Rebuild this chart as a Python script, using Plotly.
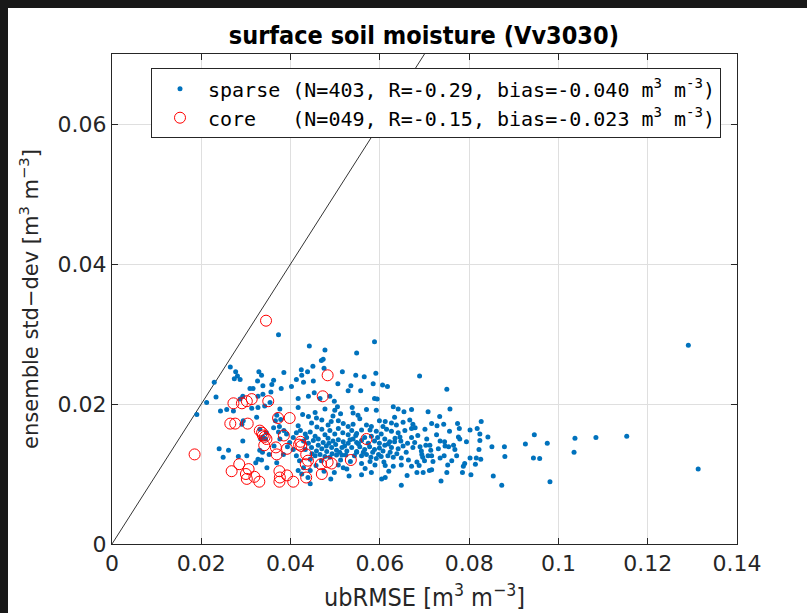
import plotly.graph_objects as go

# ---------------- data ----------------
sparse_x = [
    # region near the 1:1 line
    0.0373, 0.0265, 0.0277, 0.0287, 0.0274, 0.0281, 0.0329, 0.0335, 0.0385, 0.0413,
    0.0326, 0.0316, 0.0309, 0.0338, 0.0358, 0.0362, 0.0379, 0.0402, 0.0356, 0.0233,
    0.0229, 0.0212, 0.0243, 0.0257, 0.0272, 0.0293, 0.0287, 0.0327, 0.0338, 0.0354,
    0.0313, 0.0327, 0.0342, 0.0376, 0.0324, 0.0294, 0.0291, 0.0369, 0.0366, 0.0378,
    0.0375, 0.0417, 0.0417, 0.0190, 0.0240, 0.0261, 0.0302, 0.0283, 0.0249, 0.0293,
    0.0331, 0.0337, 0.0352, 0.0363, 0.0384, 0.0322, 0.0327, 0.0335, 0.0347, 0.0369,
    0.0417, 0.0331, 0.0346, 0.0338, 0.0344, 0.0333, 0.0362, 0.0373, 0.0385, 0.0391,
    0.0417, 0.0376, 0.0398, 0.0406, 0.0413, 0.0406, 0.0413, 0.0420, 0.0442, 0.0477,
    0.0473, 0.0469, 0.0548, 0.0588,
    # central cluster
    0.0424, 0.0438, 0.0450, 0.0475, 0.0516, 0.0546, 0.0565, 0.0591, 0.0425, 0.0429,
    0.0451, 0.0506, 0.0529, 0.0535, 0.0557, 0.0585, 0.0606, 0.0617, 0.0588, 0.0594,
    0.0440, 0.0453, 0.0466, 0.0488, 0.0498, 0.0427, 0.0440, 0.0455, 0.0477, 0.0499,
    0.0505, 0.0538, 0.0540, 0.0570, 0.0592, 0.0630, 0.0641, 0.0654, 0.0671, 0.0447,
    0.0458, 0.0470, 0.0484, 0.0495, 0.0507, 0.0518, 0.0529, 0.0540, 0.0555, 0.0570,
    0.0581, 0.0599, 0.0612, 0.0626, 0.0637, 0.0652, 0.0667, 0.0674, 0.0422, 0.0433,
    0.0444, 0.0455, 0.0470, 0.0477, 0.0488, 0.0499, 0.0507, 0.0517, 0.0529, 0.0537,
    0.0548, 0.0559, 0.0581, 0.0592, 0.0603, 0.0615, 0.0626, 0.0641, 0.0656, 0.0671,
    0.0671, 0.0429, 0.0440, 0.0451, 0.0462, 0.0473, 0.0484, 0.0495, 0.0507, 0.0518,
    0.0529, 0.0540, 0.0548, 0.0559, 0.0588, 0.0599, 0.0611, 0.0622, 0.0634, 0.0647,
    0.0662, 0.0674, 0.0433, 0.0447, 0.0458, 0.0470, 0.0480, 0.0492, 0.0503, 0.0515,
    0.0526, 0.0537, 0.0548, 0.0555, 0.0566, 0.0577, 0.0588, 0.0599, 0.0611, 0.0626,
    0.0641, 0.0652, 0.0455, 0.0466, 0.0477, 0.0488, 0.0503, 0.0515, 0.0548, 0.0559,
    0.0570, 0.0580, 0.0592, 0.0603, 0.0618, 0.0630, 0.0648, 0.0507, 0.0518, 0.0526,
    0.0498, 0.0559, 0.0581, 0.0612, 0.0630, 0.0648, 0.0671, 0.0429, 0.0444, 0.0425,
    0.0612, 0.0648, 0.0559, 0.0604, 0.0444,
    # right part of the cluster
    0.0689, 0.0750, 0.0708, 0.0734, 0.0757, 0.0679, 0.0701, 0.0716, 0.0728, 0.0743,
    0.0756, 0.0774, 0.0778, 0.0776, 0.0779, 0.0802, 0.0818, 0.0827, 0.0824, 0.0842,
    0.0794, 0.0824, 0.0851, 0.0879, 0.0926, 0.0690, 0.0703, 0.0712, 0.0714, 0.0731,
    0.0735, 0.0745, 0.0746, 0.0754, 0.0765, 0.0768, 0.0772, 0.0744, 0.0735, 0.0708,
    0.0716, 0.0694, 0.0696, 0.0683, 0.0697, 0.0711, 0.0716, 0.0752, 0.0750, 0.0785,
    0.0787, 0.0790, 0.0802, 0.0816, 0.0826, 0.0814, 0.0822, 0.0880, 0.0804, 0.0854,
    0.0873, 0.0737, 0.0683,
    # far right
    0.0946, 0.0975, 0.0944, 0.0958, 0.0981, 0.1291, 0.1037, 0.1084, 0.1153, 0.1035,
    0.1313,
    # dense core of the cluster
    0.0436, 0.0448, 0.0462, 0.0469, 0.0481, 0.0486, 0.0493, 0.0501, 0.0510, 0.0512,
    0.0521, 0.0524, 0.0533, 0.0534, 0.0543, 0.0546, 0.0552, 0.0563, 0.0566, 0.0574,
    0.0578, 0.0584, 0.0595, 0.0597, 0.0607, 0.0609, 0.0619, 0.0623, 0.0633, 0.0638,
    0.0645, 0.0659, 0.0664, 0.0678, 0.0685, 0.0693, 0.0705, 0.0719, 0.0727, 0.0761,
    0.0459, 0.0491, 0.0512, 0.0551, 0.0578, 0.0607, 0.0633, 0.0457, 0.0475, 0.0531,
    0.0567, 0.0589, 0.0444, 0.0439, 0.0490, 0.0620, 0.0661, 0.0688, 0.0700, 0.0393,
]
sparse_y = [
    0.0299, 0.0253, 0.0246, 0.0235, 0.0236, 0.0240, 0.0246, 0.0241, 0.0245, 0.0235,
    0.0233, 0.0222, 0.0222, 0.0226, 0.0228, 0.0234, 0.0222, 0.0225, 0.0217, 0.0210,
    0.0231, 0.0202, 0.0190, 0.0192, 0.0190, 0.0211, 0.0207, 0.0211, 0.0214, 0.0202,
    0.0194, 0.0195, 0.0197, 0.0193, 0.0181, 0.0176, 0.0171, 0.0184, 0.0176, 0.0178,
    0.0168, 0.0208, 0.0195, 0.0185, 0.0136, 0.0134, 0.0126, 0.0125, 0.0124, 0.0147,
    0.0134, 0.0131, 0.0128, 0.0140, 0.0128, 0.0116, 0.0121, 0.0120, 0.0109, 0.0116,
    0.0105, 0.0164, 0.0159, 0.0153, 0.0150, 0.0150, 0.0166, 0.0160, 0.0162, 0.0157,
    0.0169, 0.0150, 0.0145, 0.0152, 0.0159, 0.0135, 0.0126, 0.0119, 0.0283, 0.0277,
    0.0264, 0.0262, 0.0273, 0.0289,
    0.0249, 0.0246, 0.0254, 0.0251, 0.0246, 0.0241, 0.0239, 0.0244, 0.0241, 0.0231,
    0.0233, 0.0229, 0.0219, 0.0226, 0.0219, 0.0229, 0.0227, 0.0225, 0.0208, 0.0207,
    0.0211, 0.0216, 0.0208, 0.0211, 0.0204, 0.0185, 0.0182, 0.0188, 0.0193, 0.0191,
    0.0196, 0.0195, 0.0187, 0.0192, 0.0191, 0.0196, 0.0193, 0.0189, 0.0192, 0.0173,
    0.0180, 0.0177, 0.0170, 0.0183, 0.0176, 0.0172, 0.0168, 0.0171, 0.0179, 0.0170,
    0.0168, 0.0176, 0.0175, 0.0173, 0.0170, 0.0174, 0.0177, 0.0171, 0.0162, 0.0157,
    0.0160, 0.0154, 0.0164, 0.0156, 0.0162, 0.0157, 0.0165, 0.0159, 0.0156, 0.0162,
    0.0158, 0.0163, 0.0154, 0.0161, 0.0157, 0.0164, 0.0161, 0.0159, 0.0162, 0.0165,
    0.0152, 0.0147, 0.0144, 0.0148, 0.0150, 0.0145, 0.0151, 0.0147, 0.0149, 0.0146,
    0.0144, 0.0150, 0.0145, 0.0148, 0.0147, 0.0144, 0.0150, 0.0146, 0.0151, 0.0147,
    0.0144, 0.0138, 0.0135, 0.0138, 0.0133, 0.0136, 0.0140, 0.0138, 0.0134, 0.0138,
    0.0133, 0.0138, 0.0132, 0.0139, 0.0135, 0.0139, 0.0135, 0.0137, 0.0141, 0.0138,
    0.0136, 0.0140, 0.0126, 0.0128, 0.0125, 0.0124, 0.0127, 0.0127, 0.0131, 0.0126,
    0.0128, 0.0124, 0.0122, 0.0125, 0.0126, 0.0124, 0.0123, 0.0113, 0.0109, 0.0107,
    0.0102, 0.0115, 0.0102, 0.0112, 0.0111, 0.0113, 0.0111, 0.0109, 0.0105, 0.0100,
    0.0095, 0.0084, 0.0099, 0.0093, 0.0086,
    0.0240, 0.0221, 0.0189, 0.0182, 0.0193, 0.0166, 0.0164, 0.0172, 0.0169, 0.0171,
    0.0161, 0.0172, 0.0165, 0.0153, 0.0150, 0.0163, 0.0165, 0.0175, 0.0157, 0.0153,
    0.0146, 0.0148, 0.0139, 0.0139, 0.0143, 0.0139, 0.0141, 0.0141, 0.0134, 0.0136,
    0.0147, 0.0146, 0.0140, 0.0139, 0.0141, 0.0135, 0.0126, 0.0126, 0.0123, 0.0126,
    0.0126, 0.0128, 0.0124, 0.0117, 0.0102, 0.0105, 0.0106, 0.0113, 0.0102, 0.0102,
    0.0111, 0.0115, 0.0123, 0.0123, 0.0121, 0.0114, 0.0135, 0.0125, 0.0099, 0.0097,
    0.0084, 0.0090, 0.0102,
    0.0156, 0.0144, 0.0123, 0.0122, 0.0089, 0.0284, 0.0151, 0.0152, 0.0154, 0.0131,
    0.0107,
    0.0152, 0.0129, 0.0141, 0.0119, 0.0132, 0.0144, 0.0129, 0.0142, 0.0131, 0.0120,
    0.0140, 0.0127, 0.0149, 0.0118, 0.0126, 0.0155, 0.0143, 0.0131, 0.0152, 0.0144,
    0.0118, 0.0131, 0.0152, 0.0128, 0.0133, 0.0117, 0.0143, 0.0131, 0.0146, 0.0129,
    0.0153, 0.0131, 0.0120, 0.0145, 0.0155, 0.0133, 0.0150, 0.0118, 0.0156, 0.0119,
    0.0167, 0.0175, 0.0186, 0.0184, 0.0163, 0.0168, 0.0181, 0.0112, 0.0104, 0.0097,
    0.0108, 0.0113, 0.0121, 0.0095, 0.0093, 0.0104, 0.0098, 0.0112, 0.0119, 0.0139,
]

core_x = [
    0.0345, 0.0483, 0.0472, 0.0272, 0.0291, 0.0302, 0.0313, 0.0350, 0.0265, 0.0276,
    0.0304, 0.0331, 0.0338, 0.0342, 0.0372, 0.0398, 0.0385, 0.0341, 0.0367, 0.0392,
    0.0369, 0.0422, 0.0424, 0.0435, 0.0185, 0.0285, 0.0268, 0.0300, 0.0302, 0.0319,
    0.0330, 0.0375, 0.0376, 0.0375, 0.0406, 0.0435, 0.0434, 0.0439, 0.0468, 0.0470,
    0.0492, 0.0535, 0.0570, 0.0483, 0.0419, 0.0346, 0.0306, 0.0392, 0.0336,
]
core_y = [
    0.0319, 0.0241, 0.0211, 0.0201, 0.0201, 0.0204, 0.0207, 0.0204, 0.0172, 0.0172,
    0.0172, 0.0162, 0.0155, 0.0153, 0.0180, 0.0180, 0.0155, 0.0141, 0.0138, 0.0136,
    0.0128, 0.0146, 0.0140, 0.0128, 0.0128, 0.0114, 0.0104, 0.0100, 0.0093, 0.0096,
    0.0089, 0.0104, 0.0095, 0.0089, 0.0089, 0.0095, 0.0114, 0.0119, 0.0114, 0.0100,
    0.0115, 0.0120, 0.0150, 0.0117, 0.0142, 0.0150, 0.0107, 0.0098, 0.0159,
]

one_to_one = [0.0, 0.07]

x_ticks = [0, 0.02, 0.04, 0.06, 0.08, 0.1, 0.12, 0.14]
y_ticks = [0, 0.02, 0.04, 0.06]

NB = "\u00a0"
sparse_name = "sparse (N=403, R=-0.29, bias=-0.040 m<sup>3</sup> m<sup>-3</sup>)"
core_name = "core" + NB * 3 + "(N=049, R=-0.15, bias=-0.023 m<sup>3</sup> m<sup>-3</sup>)"

# ---------------- figure ----------------
fig = go.Figure()

fig.add_trace(go.Scatter(
    x=one_to_one, y=one_to_one, mode="lines",
    line=dict(color="black", width=0.8), showlegend=False, hoverinfo="skip",
))
fig.add_trace(go.Scatter(
    x=sparse_x, y=sparse_y, mode="markers", name=sparse_name,
    marker=dict(color="#0072BD", size=5, line=dict(width=0)),
))
fig.add_trace(go.Scatter(
    x=core_x, y=core_y, mode="markers", name=core_name,
    marker=dict(symbol="circle-open", color="#FF0000", size=11, line=dict(width=1)),
))

axis_col = "#262626"
grid_col = "#dfdfdf"
narrow = "Liberation Sans Narrow, DejaVu Sans Condensed, Liberation Sans, Arial"

fig.update_xaxes(
    range=[0, 0.14], tickvals=x_ticks, ticktext=[f"{v:g}" for v in x_ticks],
    automargin=False,
    showgrid=True, gridcolor=grid_col, gridwidth=1, zeroline=False,
    showline=True, linecolor=axis_col, linewidth=1, mirror="ticks",
    ticks="inside", ticklen=6, tickcolor=axis_col, tickwidth=1,
    tickfont=dict(family="DejaVu Sans", size=22, color=axis_col),
    title=dict(text="ubRMSE [m<sup>3</sup> m<sup>\u22123</sup>]",
               font=dict(family=narrow, size=25, color=axis_col), standoff=13),
)
fig.update_yaxes(
    range=[0, 0.07], tickvals=y_ticks, ticktext=[f"{v:g}" for v in y_ticks],
    automargin=False,
    showgrid=True, gridcolor=grid_col, gridwidth=1, zeroline=False,
    showline=True, linecolor=axis_col, linewidth=1, mirror="ticks",
    ticks="inside", ticklen=6, tickcolor=axis_col, tickwidth=1,
    tickfont=dict(family="DejaVu Sans", size=22, color=axis_col),
    title=dict(text="ensemble std\u2212dev [m<sup>3</sup> m<sup>\u22123</sup>]",
               font=dict(family="DejaVu Sans", size=21, color=axis_col), standoff=13),
)

# plot area: 112..737 px horizontally, 54..544 px vertically
frame_col = "#181818"
fig.update_layout(
    width=807, height=613,
    margin=dict(l=112, r=70, t=54, b=69, pad=0, autoexpand=False),
    paper_bgcolor="white", plot_bgcolor="white",
    title=dict(text="<b>surface soil moisture (Vv3030)</b>",
               font=dict(family=narrow, size=25, color="black"),
               x=0.499, xanchor="center", xref="paper",
               y=1 - 35 / 613, yanchor="middle"),
    legend=dict(
        x=0.0624, y=0.971, xanchor="left", yanchor="top",
        bgcolor="white", bordercolor=axis_col, borderwidth=1,
        font=dict(family="DejaVu Sans Mono", size=20, color="black"),
        itemwidth=46, tracegroupgap=0,
    ),
    shapes=[
        # dark window frame along the top and left edges of the screenshot
        dict(type="rect", xref="paper", yref="paper",
             x0=-0.1800, x1=-0.1664, y0=-0.15, y1=1.12,
             fillcolor=frame_col, line=dict(width=0), layer="above"),
        dict(type="rect", xref="paper", yref="paper",
             x0=-0.1800, x1=1.12, y0=1.0939, y1=1.12,
             fillcolor=frame_col, line=dict(width=0), layer="above"),
    ],
    showlegend=True,
)

# put the figure flush with the window and suppress any scrollbars
page_js = (
    "var st=document.createElement('style');"
    "st.textContent='html,body{margin:0;padding:0;overflow:hidden;background:#fff;"
    "scrollbar-width:none;} ::-webkit-scrollbar{display:none;width:0;height:0;}';"
    "document.head.appendChild(st);"
    "document.body.style.margin='0';"
    "document.body.style.overflow='hidden';"
    "document.documentElement.style.overflow='hidden';"
)
fig.write_html("out.html", post_script=page_js, config={"displayModeBar": False})
